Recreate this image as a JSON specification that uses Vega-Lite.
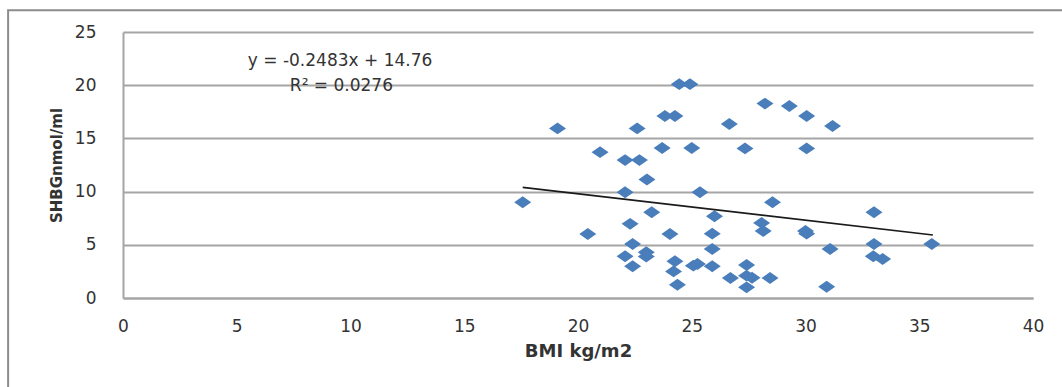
{
  "$schema": "https://vega.github.io/schema/vega-lite/v6.json",
  "width": 910,
  "height": 266,
  "autosize": {"type": "none"},
  "padding": {"left": 123, "top": 32, "right": 29, "bottom": 89},
  "background": "white",
  "config": {"view": {"stroke": null}, "font": "DejaVu Sans"},
  "datasets": {
    "points": [
      {"bmi": 17.57, "shbg": 9.0},
      {"bmi": 19.1, "shbg": 15.94},
      {"bmi": 20.43, "shbg": 6.02},
      {"bmi": 20.97, "shbg": 13.71},
      {"bmi": 22.07, "shbg": 12.96},
      {"bmi": 22.07, "shbg": 9.94},
      {"bmi": 22.29, "shbg": 6.97},
      {"bmi": 22.4, "shbg": 5.08},
      {"bmi": 22.07, "shbg": 3.92},
      {"bmi": 22.4, "shbg": 2.98},
      {"bmi": 22.6, "shbg": 15.94},
      {"bmi": 22.7, "shbg": 12.96},
      {"bmi": 23.03, "shbg": 11.14},
      {"bmi": 23.24, "shbg": 8.06},
      {"bmi": 23.0, "shbg": 4.3},
      {"bmi": 23.0, "shbg": 3.9},
      {"bmi": 23.82, "shbg": 17.1},
      {"bmi": 24.26, "shbg": 17.1},
      {"bmi": 23.7, "shbg": 14.1},
      {"bmi": 24.04, "shbg": 6.02},
      {"bmi": 24.26, "shbg": 3.45},
      {"bmi": 24.2, "shbg": 2.5},
      {"bmi": 24.37, "shbg": 1.25},
      {"bmi": 24.45, "shbg": 20.1},
      {"bmi": 24.92, "shbg": 20.1},
      {"bmi": 25.0, "shbg": 14.1},
      {"bmi": 25.36, "shbg": 9.94},
      {"bmi": 25.07, "shbg": 3.04},
      {"bmi": 25.25, "shbg": 3.2},
      {"bmi": 26.0, "shbg": 7.68},
      {"bmi": 25.9, "shbg": 6.05},
      {"bmi": 25.9, "shbg": 4.6},
      {"bmi": 25.9, "shbg": 2.98},
      {"bmi": 26.65, "shbg": 16.35},
      {"bmi": 26.7, "shbg": 1.88},
      {"bmi": 27.34, "shbg": 14.06},
      {"bmi": 27.41, "shbg": 3.1},
      {"bmi": 27.41, "shbg": 2.1},
      {"bmi": 27.65, "shbg": 1.9},
      {"bmi": 27.41, "shbg": 1.0},
      {"bmi": 28.22, "shbg": 18.27},
      {"bmi": 28.07, "shbg": 7.06},
      {"bmi": 28.14, "shbg": 6.3},
      {"bmi": 28.44, "shbg": 1.88},
      {"bmi": 28.55, "shbg": 9.0},
      {"bmi": 29.29, "shbg": 18.04},
      {"bmi": 30.05, "shbg": 17.1},
      {"bmi": 30.05, "shbg": 14.06},
      {"bmi": 30.05, "shbg": 6.05},
      {"bmi": 30.0, "shbg": 6.3},
      {"bmi": 31.19, "shbg": 16.16},
      {"bmi": 31.08, "shbg": 4.6},
      {"bmi": 30.93, "shbg": 1.06},
      {"bmi": 33.01, "shbg": 8.06},
      {"bmi": 33.01, "shbg": 5.08},
      {"bmi": 32.98, "shbg": 3.92},
      {"bmi": 33.39, "shbg": 3.67},
      {"bmi": 35.55, "shbg": 5.08}
    ],
    "trend": [
      {"bmi": 17.57, "shbg": 10.4},
      {"bmi": 35.6, "shbg": 5.92}
    ],
    "labels": [
      {"bmi": 9.54, "shbg": 22.25, "text": "y = -0.2483x + 14.76"},
      {"bmi": 9.6, "shbg": 19.9, "text": "R² = 0.0276"}
    ]
  },
  "layer": [
    {
      "data": {"values": [{"a": 1}]},
      "mark": {"type": "rect", "fill": null, "stroke": "#8c8c8c", "strokeWidth": 2, "clip": false},
      "encoding": {
        "x": {"datum": -5.05, "type": "quantitative", "scale": {"domain": [0, 40], "zero": false, "nice": false}},
        "x2": {"datum": 46},
        "y": {"datum": 27.05, "type": "quantitative", "scale": {"domain": [0, 25], "zero": false, "nice": false}},
        "y2": {"datum": -9}
      }
    },
    {
      "data": {"name": "points"},
      "mark": {"type": "point", "shape": "M-1,0L0,-0.7L1,0L0,0.7Z", "filled": true, "size": 289, "color": "#4A7EBB", "opacity": 1},
      "encoding": {
        "x": {
          "field": "bmi", "type": "quantitative",
          "scale": {"domain": [0, 40], "zero": false, "nice": false},
          "axis": {
            "values": [0, 5, 10, 15, 20, 25, 30, 35, 40],
            "grid": false, "ticks": false, "domain": true, "domainColor": "#a5a5a5", "domainWidth": 2,
            "labelFontSize": 17, "labelColor": "#333333", "labelPadding": 20, "labelFlush": false,
            "title": "BMI kg/m2", "titleFontSize": 18, "titleFontWeight": "bold", "titleColor": "#333333", "titlePadding": 8
          }
        },
        "y": {
          "field": "shbg", "type": "quantitative",
          "scale": {"domain": [0, 25], "zero": false, "nice": false},
          "axis": {
            "values": [0, 5, 10, 15, 20, 25],
            "grid": true, "gridColor": "#a5a5a5", "gridWidth": 2, "ticks": false,
            "domain": true, "domainColor": "#a5a5a5", "domainWidth": 2,
            "labelFontSize": 17, "labelColor": "#333333", "labelPadding": 27, "labelFlush": false,
            "title": "SHBGnmol/ml", "titleFontSize": 15, "titleFontWeight": "bold", "titleColor": "#333333", "titlePadding": 10
          }
        }
      }
    },
    {
      "data": {"name": "trend"},
      "mark": {"type": "line", "color": "#1a1a1a", "strokeWidth": 1.6},
      "encoding": {
        "x": {"field": "bmi", "type": "quantitative"},
        "y": {"field": "shbg", "type": "quantitative"}
      }
    },
    {
      "data": {"name": "labels"},
      "mark": {"type": "text", "fontSize": 17, "color": "#333333", "align": "center", "baseline": "middle"},
      "encoding": {
        "x": {"field": "bmi", "type": "quantitative"},
        "y": {"field": "shbg", "type": "quantitative"},
        "text": {"field": "text"}
      }
    }
  ]
}
